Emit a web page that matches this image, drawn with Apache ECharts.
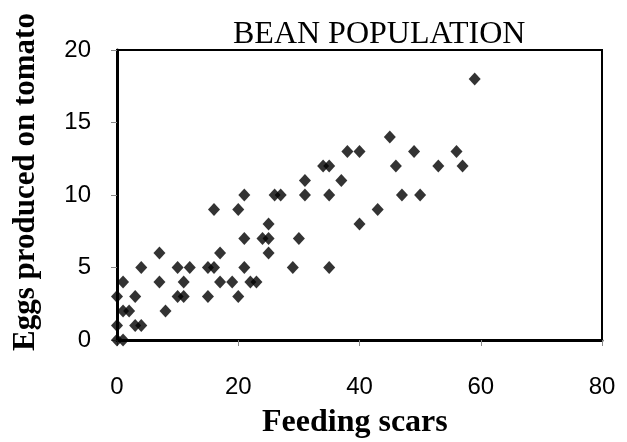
<!DOCTYPE html>
<html>
<head>
<meta charset="utf-8">
<script src="https://cdn.jsdelivr.net/npm/echarts@6/dist/echarts.min.js"></script>
<style>
  html, body { margin: 0; padding: 0; background: #fff; }
  #main { width: 627px; height: 442px; }
</style>
</head>
<body>
<div id="main"></div>
<script>
// feeding scars (x) and eggs produced on tomato (y)
var scars = [0, 1, 0, 0, 1, 2, 1, 3, 3, 4, 4, 7, 7, 8, 10, 10, 11, 11, 12, 15, 15, 16, 16, 17, 17, 19,
  20, 20, 21, 21, 21, 22, 23, 25, 24, 25, 25, 26, 27, 29, 30, 31, 31, 34, 35, 35, 35, 37, 38, 40, 40,
  43, 45, 49, 46, 47, 50, 53, 56, 57, 59];
var eggs = [0, 0, 1, 3, 2, 2, 4, 3, 1, 1, 5, 6, 4, 2, 5, 3, 4, 3, 5, 5, 3, 5, 9, 6, 4, 4,
  3, 9, 10, 7, 5, 4, 4, 8, 7, 7, 6, 10, 10, 5, 7, 11, 10, 12, 12, 10, 5, 11, 13, 13, 8,
  9, 14, 13, 12, 10, 10, 12, 13, 12, 18];
var xTicks = [0, 20, 40, 60, 80];
var yTicks = [0, 5, 10, 15, 20];

var points = [];
for (var i = 0; i < scars.length; i++) {
  points.push([scars[i], eggs[i]]);
}

var chartDom = document.getElementById("main");
var myChart = echarts.init(chartDom, null, { renderer: "canvas" });

var option = {
  animation: false,
  backgroundColor: "#fff",
  title: [
    {
      text: "BEAN POPULATION",
      left: 228,
      top: 14,
      textStyle: {
        fontFamily: "Liberation Serif",
        fontWeight: "normal",
        fontSize: 32,
        color: "#000",
      },
    },
    {
      // x axis title, kept as a title so it does not squeeze the grid
      text: "Feeding scars",
      left: 262,
      top: 407,
      padding: 0,
      textStyle: {
        fontFamily: "Liberation Serif",
        fontWeight: "bold",
        fontSize: 32,
        color: "#000",
      },
    },
  ],
  grid: {
    left: 117,
    right: 25,
    top: 50,
    bottom: 102,
    show: true,
    borderColor: "#000",
    borderWidth: 2,
    backgroundColor: "transparent",
  },
  xAxis: {
    type: "value",
    min: xTicks[0],
    max: xTicks[xTicks.length - 1],
    interval: 20,
    axisLine: { show: true, onZero: false, lineStyle: { color: "#000", width: 3 } },
    axisTick: { show: true, inside: false, length: 6, lineStyle: { color: "#888", width: 1 } },
    axisLabel: {
      margin: 35,
      fontFamily: "Liberation Sans",
      fontSize: 24,
      color: "#000",
    },
    splitLine: { show: false },
  },
  yAxis: {
    type: "value",
    min: yTicks[0],
    max: yTicks[yTicks.length - 1],
    interval: 5,
    name: "Eggs produced on tomato",
    nameLocation: "middle",
    nameRotate: 90,
    nameGap: 76,
    nameTextStyle: {
      fontFamily: "Liberation Serif",
      fontWeight: "bold",
      fontSize: 31,
      color: "#000",
      padding: [0, 0, 0, 26],
    },
    axisLine: { show: true, onZero: false, lineStyle: { color: "#000", width: 3 } },
    axisTick: { show: true, inside: false, length: 6, lineStyle: { color: "#888", width: 1 } },
    axisLabel: {
      margin: 26,
      fontFamily: "Liberation Sans",
      fontSize: 24,
      color: "#000",
    },
    splitLine: { show: false },
  },
  series: [
    {
      type: "scatter",
      data: points,
      symbol: "diamond",
      symbolSize: [12, 13],
      itemStyle: { color: "#000" },
    },
  ],
};

option && myChart.setOption(option);
</script>
</body>
</html>
